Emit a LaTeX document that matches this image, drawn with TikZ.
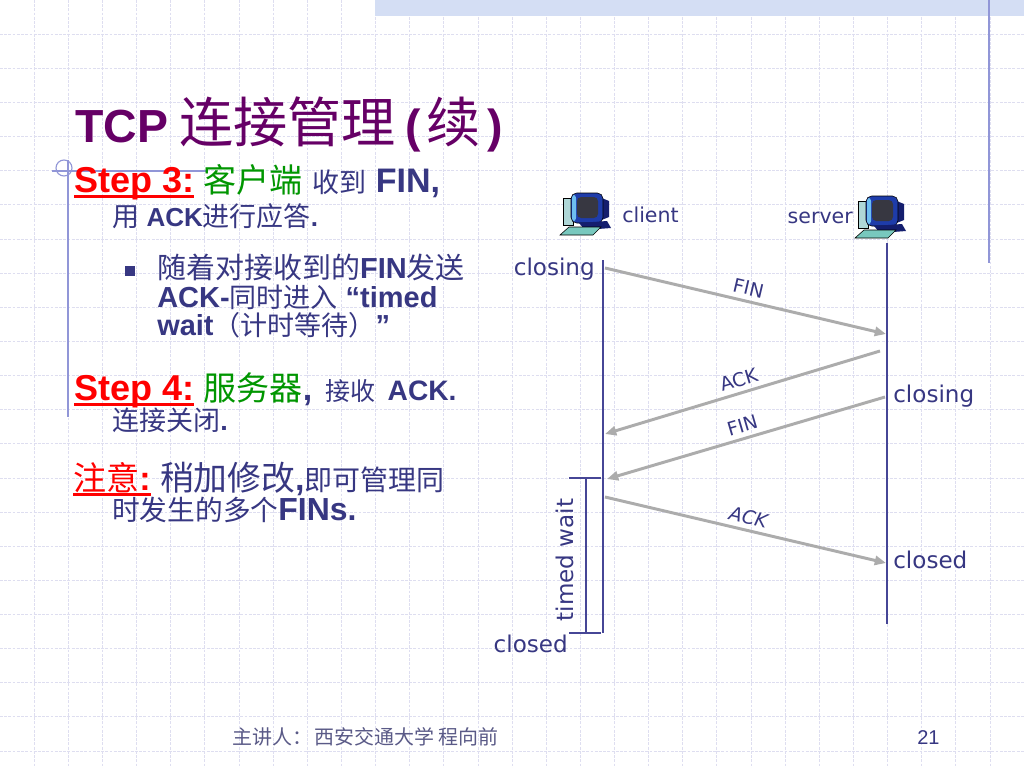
\documentclass[tikz,border=0pt]{standalone}
\usepackage{fontspec}
\setmainfont{Liberation Sans}
\newfontfamily\cjk{Noto Sans CJK SC}
\newfontfamily\comic{DejaVu Sans}
\usetikzlibrary{arrows.meta}
\definecolor{navy}{RGB}{55,55,130}
\definecolor{linjeblue}{RGB}{70,70,150}
\definecolor{pilgra}{RGB}{172,172,172}
\definecolor{titel}{RGB}{102,0,102}
\definecolor{gron}{RGB}{0,150,0}
\definecolor{rutnat}{RGB}{222,222,240}
\definecolor{dekor}{RGB}{145,150,215}
\definecolor{band}{RGB}{212,222,244}
\definecolor{fotgra}{RGB}{90,90,135}
\definecolor{torn}{RGB}{175,215,215}
\definecolor{skarmkant}{RGB}{30,60,170}
\definecolor{glans}{RGB}{110,190,240}
\definecolor{skarm}{RGB}{55,55,65}
\definecolor{fot}{RGB}{20,30,110}
\definecolor{tangent}{RGB}{120,200,190}
\newcommand\fz[1]{\fontsize{#1}{#1}\selectfont}
\newcommand\zh{\cjk\mdseries}
\newcommand\stp[1]{{\color{red}\setbox0\hbox{#1}\rlap{\rule[-4.2pt]{\wd0}{2pt}}\box0}}
\tikzset{
  pc/.pic={
    \fill[draw=black,line width=0.4pt,fill=torn] (0,5) rectangle (10,32);
    \fill[fot] (36,4) -- (46,8) -- (46,24) -- (36,28) -- cycle;
    \fill[draw=black,line width=0.4pt,fill=skarmkant,rounded corners=4] (8,0) rectangle (40,30);
    \fill[glans,rounded corners=2] (9,2) rectangle (13,28);
    \fill[skarm,rounded corners=3] (14,4) rectangle (35,25);
    \fill[fot] (16,30) -- (44,28) -- (48,35) -- (22,37) -- cycle;
    \fill[draw=black,line width=0.4pt,fill=tangent] (-3,42) -- (30,42) -- (38,34) -- (6,34) -- cycle;
  }
}
\begin{document}
\begin{tikzpicture}[x=0.025cm,y=-0.025cm,
  rut/.style={draw=rutnat,line width=0.5pt,dash pattern=on 2pt off 1pt},
  txt/.style={anchor=base west,inner sep=0,text=navy,font=\bfseries\fz{24.2}},
  lbl/.style={inner sep=0,text=navy,font=\comic\fz{16.4}},
  tidslinje/.style={draw=linjeblue,line width=1.8pt},
  pil/.style={draw=pilgra,line width=2.1pt,-{Triangle[length=8pt,width=6.5pt]}},
  pilnamn/.style={midway,above,sloped,text=navy,font=\comic\fz{13.5}}]
  \useasboundingbox (0,0) rectangle (1024,768);
  \fill[white] (0,0) rectangle (1024,768);
  % Rutnät
  \foreach \i in {1,...,29}
    \draw[rut] (\i*34.133,0) -- (\i*34.133,768);
  \foreach \j in {1,...,22}
    \draw[rut] (0,\j*34.133) -- (1024,\j*34.133);
  % Dekor
  \fill[band] (375,0) rectangle (1024,16);
  \draw[dekor,line width=1.2pt] (989,0) -- (989,263);
  \draw[dekor,line width=1.2pt] (68,160) -- (68,417);
  \draw[dekor,line width=0.8pt] (64,168) circle (8);
  \draw[dekor,line width=0.8pt] (52,171) -- (207,171);
  % Rubrik
  \node[anchor=base west,inner sep=0,text=titel,font=\bfseries\fz{33}] (rubrik) at (75,143)
    {TCP\hspace{8pt}{\zh\fz{38.5}连接管理}\hspace{7pt}(\hspace{3.5pt}{\zh\fz{38.5}续}\hspace{5pt})};
  % Text
  \node[txt] (steg3) at (74,192)
    {\stp{\fz{25.6}Step 3:} {\zh\color{gron}\fz{23.5}客户端} {\zh\fz{19.2}收到} FIN,};
  \node[txt,font=\bfseries\fz{18.5}] (steg3b) at (112,226)
    {{\zh\fz{19.2}用} ACK{\zh\fz{19.2}进行应答}.};
  \fill[navy] (125,266) rectangle (135,276);
  \node[txt,font=\bfseries\fz{20.6}] (punkt1) at (157,278)
    {{\zh 随着对接收到的}FIN{\zh 发送}};
  \node[txt,font=\bfseries\fz{20.6}] (punkt2) at (157,307)
    {ACK-{\zh\fz{19.2}同时进入} “timed};
  \node[txt,font=\bfseries\fz{20.6}] (punkt3) at (157,335)
    {wait{\zh\fz{19.2}（计时等待）}”};
  \node[txt] (steg4) at (74,400)
    {\stp{\fz{25.6}Step 4:} {\zh\color{gron}\fz{23.5}服务器},\hspace{9pt}{\zh\fz{17.8}接收}\hspace{9pt}{\fz{20}ACK.}};
  \node[txt,font=\bfseries\fz{19.2}] (steg4b) at (112,430)
    {{\zh 连接关闭}.};
  \node[txt] (obs) at (73,490)
    {\stp{{\zh\fz{23.5}注意}:} {\zh\fz{24}稍加修改},{\zh\fz{19.9}即可管理同}};
  \node[txt,font=\bfseries\fz{22.7}] (obsb) at (112,520)
    {{\zh\fz{19.7}时发生的多个}FINs.};
  % Sidfot
  \node[anchor=base west,inner sep=0,text=fotgra,font=\zh\fz{14.2}] (sidfot) at (232,744)
    {主讲人：\hspace{2pt}西安交通大学\hspace{3pt}程向前};
  \node[anchor=base west,inner sep=0,text=navy,font=\fz{14.2}] (sida) at (917,744) {21};
  % Datorer
  \pic at (563,193) {pc};
  \pic at (858,196) {pc};
  \node[lbl,anchor=base west,font=\comic\fz{14.6}] (klient) at (622,222) {client};
  \node[lbl,anchor=base east,font=\comic\fz{14.6}] (server) at (853,223) {server};
  % Tidslinjer
  \coordinate (kTop) at (603,260);
  \coordinate (kBot) at (603,633);
  \coordinate (sTop) at (887,243);
  \coordinate (sBot) at (887,624);
  \draw[tidslinje] (kTop) -- (kBot);
  \draw[tidslinje] (sTop) -- (sBot);
  % Tillstånd
  \node[lbl,anchor=base east] (stangerK) at (595,275) {closing};
  \node[lbl,anchor=base west] (stangerS) at (893,402) {closing};
  \node[lbl,anchor=base west] (stangdS) at (893,568) {closed};
  \node[lbl,anchor=base east] (stangdK) at (568,652) {closed};
  % Timed wait
  \coordinate (twTop) at (586,478);
  \coordinate (twBot) at (586,633);
  \draw[tidslinje,line width=2.1pt] (twTop) -- (twBot);
  \draw[tidslinje,line width=2.1pt] ([xshift=-12]twTop) -- ([xshift=11]twTop);
  \draw[tidslinje,line width=2.1pt] ([xshift=-12]twBot) -- ([xshift=11]twBot);
  \node[lbl,rotate=90] (tw) at (565,560) {timed wait};
  % Pilar
  \coordinate (fin1a) at (605,268);
  \coordinate (fin1b) at (886,334);
  \coordinate (ack1a) at (880,351);
  \coordinate (ack1b) at (605,434);
  \coordinate (fin2a) at (885,397);
  \coordinate (fin2b) at (607,479);
  \coordinate (ack2a) at (605,497);
  \coordinate (ack2b) at (886,563);
  \draw[pil] (fin1a) -- (fin1b) node[pilnamn] {FIN};
  \draw[pil] (ack1a) -- (ack1b) node[pilnamn] {ACK};
  \draw[pil] (fin2a) -- (fin2b) node[pilnamn] {FIN};
  \draw[pil] (ack2a) -- (ack2b) node[pilnamn,font=\comic\itshape\fz{13.5}] {ACK};
\end{tikzpicture}
\end{document}
